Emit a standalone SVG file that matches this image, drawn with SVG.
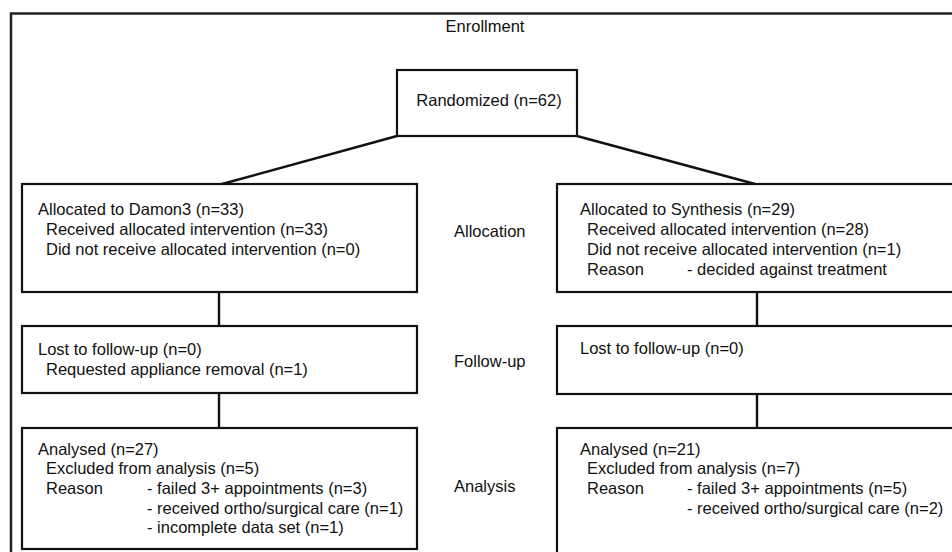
<svg xmlns="http://www.w3.org/2000/svg" width="952" height="552" viewBox="0 0 952 552">
<style>
.frame{fill:none;stroke:#222;stroke-width:2.5}
.box{fill:#fff;stroke:#111;stroke-width:2.2}
.ln{fill:none;stroke:#111;stroke-width:2.4}
text{font-family:"Liberation Sans",Arial,sans-serif;font-size:16.5px;fill:#111}
</style>
<rect width="952" height="552" fill="#fff"/>
<rect class="frame" x="11" y="13.5" width="960" height="560"/>
<text x="485" y="32" text-anchor="middle">Enrollment</text>
<g id="connectors">
<line class="ln" x1="397" y1="136" x2="222" y2="184"/>
<line class="ln" x1="577" y1="136" x2="755" y2="184"/>
<line class="ln" x1="219" y1="292" x2="219" y2="326"/>
<line class="ln" x1="219" y1="393" x2="219" y2="428"/>
<line class="ln" x1="757" y1="292" x2="757" y2="326"/>
<line class="ln" x1="757" y1="394" x2="757" y2="428"/>
</g>
<g id="randomized">
<rect class="box" x="397" y="70" width="180" height="66"/>
<text x="489" y="106" text-anchor="middle">Randomized (n=62)</text>
</g>
<g id="stages">
<text x="454" y="237">Allocation</text>
<text x="454" y="367">Follow-up</text>
<text x="454" y="492">Analysis</text>
</g>
<g id="alloc-left">
<rect class="box" x="22" y="184" width="395" height="108"/>
<text x="38" y="215">Allocated to Damon3 (n=33)</text>
<text x="46" y="235">Received allocated intervention (n=33)</text>
<text x="46" y="255">Did not receive allocated intervention (n=0)</text>
</g>
<g id="alloc-right">
<rect class="box" x="557" y="184" width="410" height="108"/>
<text x="580" y="215">Allocated to Synthesis (n=29)</text>
<text x="587" y="235">Received allocated intervention (n=28)</text>
<text x="587" y="255">Did not receive allocated intervention (n=1)</text>
<text x="587" y="274.5">Reason</text>
<text x="687" y="274.5">- decided against treatment</text>
</g>
<g id="follow-left">
<rect class="box" x="22" y="326" width="395" height="67"/>
<text x="38" y="355">Lost to follow-up (n=0)</text>
<text x="46" y="375">Requested appliance removal (n=1)</text>
</g>
<g id="follow-right">
<rect class="box" x="557" y="326" width="410" height="68"/>
<text x="580" y="354">Lost to follow-up (n=0)</text>
</g>
<g id="analysis-left">
<rect class="box" x="22" y="428" width="395" height="121"/>
<text x="38" y="454.5">Analysed (n=27)</text>
<text x="46" y="474.3">Excluded from analysis (n=5)</text>
<text x="46" y="494">Reason</text>
<text x="147" y="494">- failed 3+ appointments (n=3)</text>
<text x="147" y="513.7">- received ortho/surgical care (n=1)</text>
<text x="147" y="533.4">- incomplete data set (n=1)</text>
</g>
<g id="analysis-right">
<rect class="box" x="557" y="428" width="410" height="140"/>
<text x="580" y="454.5">Analysed (n=21)</text>
<text x="587" y="474.3">Excluded from analysis (n=7)</text>
<text x="587" y="494">Reason</text>
<text x="687" y="494">- failed 3+ appointments (n=5)</text>
<text x="687" y="513.7">- received ortho/surgical care (n=2)</text>
</g>
</svg>
